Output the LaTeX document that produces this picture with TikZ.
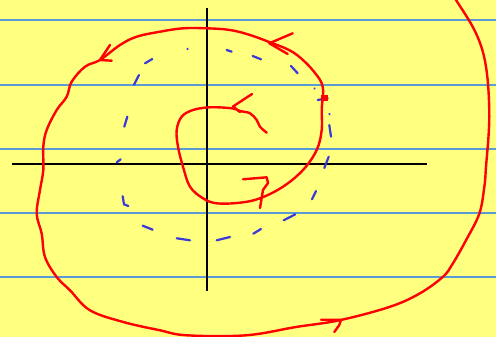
\documentclass[tikz,border=0pt]{standalone}
\usepackage{tikz}
\usepackage{xcolor}
\usetikzlibrary{calc}
\definecolor{paper}{HTML}{FFFF80}
\definecolor{ruleblue}{HTML}{5B9BD5}
\definecolor{ink}{HTML}{000000}
\definecolor{penred}{HTML}{FF0000}
\definecolor{penblue}{HTML}{3A3AD8}
\tikzset{
  ruling/.style={ruleblue,line width=1.3pt},
  axisline/.style={ink,line width=2.6pt},
  redpen/.style={penred,line width=2.4pt,line cap=round,line join=round},
  bluedash/.style={penblue,line width=2.2pt,line cap=round}
}

\begin{document}
\begin{tikzpicture}[x=1pt,y=-1pt]
  \useasboundingbox (0,0) rectangle (496,337);
  \clip (0,0) rectangle (496,337);
  \fill[paper] (0,0) rectangle (496,337);

  % ruled paper
  \foreach \yy in {20,85,149,213,277}
    \draw[ruling] (0,\yy) -- (496,\yy);

  % axes
  \draw[axisline] (12,164) -- (427,164);
  \draw[axisline] (207,8) -- (207,291);

  % blue dashed loop
  \foreach \ax/\ay/\bx/\by in {
      187.3/48.7/187.6/49, 226.7/50/231.7/51.7, 252.7/56/261/59.3,
      291/66/297.7/73.3, 314.3/88.3/314.6/88.6, 317.7/100/327.7/98.3,
      329.3/114/329.6/114.3, 329.3/125/331/136.7, 328.7/156.7/324.3/168,
      316/191/312/199.3, 295.3/214.3/283.7/220.3, 261/229/253.3/233.7,
      230/237/216.7/240.3, 190/240.3/176.7/238.3, 152.7/229.7/142.7/225.7,
      116.7/162.3/120.7/159.3, 124.3/126.7/127.3/116.7, 134/84.7/139/75,
      145/63.3/152.3/59}
    \draw[bluedash] (\ax,\ay) -- (\bx,\by);
  \draw[bluedash] (122.7,196.3) -- (124,204.3) -- (128.3,206);

  % red spiral
  \draw[redpen] plot[smooth,tension=0.6] coordinates {
    (266.7,132.7) (260,126.7) (256.7,120) (250,113.3) (240,111) (231.7,108.3)
    (210,107.3) (193,110) (181.7,116.7) (176.7,130) (178,146.7) (183,166.7)
    (190,186.7) (203,198.3) (216.7,203.3) (240,202.7) (260,198.3) (283,186.7)
    (303,170) (316.7,150) (321.7,130) (321.7,110) (322.7,86.7) (314,71.7)
    (301,58.3) (289,50) (271,42.7) (250,35) (230,30) (206.7,28.3) (183,28.3)
    (160,31.7) (136.7,36.7) (120,45) (100,60) (85,66.7) (71.7,81.7) (66.7,96.7)
    (56.7,110) (46.7,130) (43.3,146.7) (43.3,170) (40,190) (36.7,213.7)
    (41.7,233.7) (45,257) (56.7,277) (70,290.3) (90,310.3) (123.3,322)
    (160,330.3) (186.7,335.3) (246,335.3) (296,327) (339.3,320.3) (389.3,307)
    (419.3,293.7) (442.7,277) (452.7,263.7) (466,240.3) (479.3,213.7)
    (484.3,187) (486,167) (489.3,116.7) (486,66.7) (476,33.3) (456,0) (450,-8)};

  % hand-drawn arrow heads
  \draw[redpen] (252,94) -- (233,106.5) -- (240,112);
  \draw[redpen] (243,179.3) -- (266.7,177.3) -- (268,183) -- (263,190) -- (260,208);
  \draw[redpen] (292.7,33.3) -- (269.3,43.3) -- (287.7,54);
  \draw[redpen] (110,45) -- (100,60) -- (111.7,60.7);
  \draw[redpen] (321,319.7) -- (341,319.7) -- (339.3,325) -- (334.3,332);
  \fill[penred] (320.5,95) rectangle (327.5,101.5);
\end{tikzpicture}
\end{document}
